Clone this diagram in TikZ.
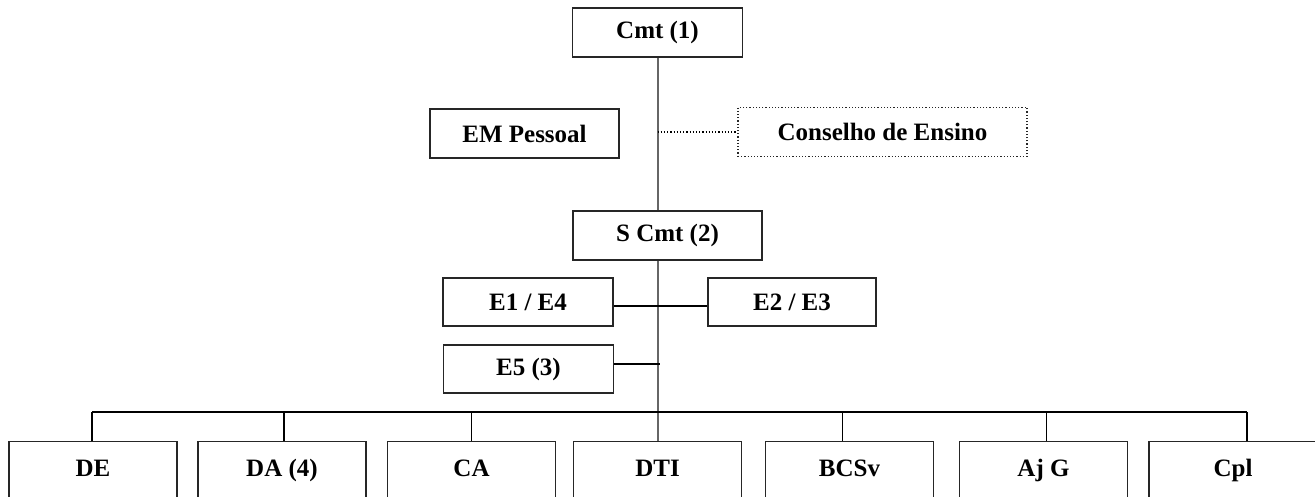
\documentclass[tikz,border=0pt]{standalone}
\usepackage{fontspec}
\setmainfont{Liberation Serif}
\usetikzlibrary{positioning, calc}

\begin{document}
\begin{tikzpicture}[x=1pt, y=-1pt,
            box/.style={rectangle, draw=black!85, line width=1.2pt, minimum height=49pt, inner sep=0pt, font=\fontsize{25}{30}\selectfont\bfseries},
            staff/.style={box, dotted, line width=1.6pt},
            leaf/.style={box, minimum width=168pt, minimum height=0pt, anchor=north, text height=35pt, text depth=40pt},
            trunk/.style={draw=black!60, line width=2pt},
            link/.style={draw=black, line width=1.2pt},
            tie/.style={link, dotted, line width=1.6pt}
        ]
            \useasboundingbox (0,0) rectangle (1315,497);
            \clip (0,0) rectangle (1315,497);

            % --- comando ---
            \node[box, minimum width=170pt] (cmt) at (657.5,32.5) {Cmt (1)};
            \node[box, minimum width=189pt] (emp) at (524.5,133.5) {EM Pessoal};
            \node[staff, minimum width=289pt] (cons) at (882.5,132) {Conselho de Ensino};
            \node[box, minimum width=189pt] (scmt) at (667.5,235.5) {S Cmt (2)};

            % --- estado-maior ---
            \node[box, minimum width=170pt, minimum height=48pt] (e14) at (528,302) {E1 / E4};
            \node[box, minimum width=168pt, minimum height=48pt] (e23) at (792,302) {E2 / E3};
            \node[box, minimum width=170pt, minimum height=48pt] (e5) at (528.5,369) {E5 (3)};

            % --- subordinados ---
            \node[leaf] (de) at (93,441) {DE};
            \node[leaf] (da) at (282,441) {DA (4)};
            \node[leaf] (ca) at (471.5,441) {CA};
            \node[leaf] (dti) at (657.5,441) {DTI};
            \node[leaf] (bcsv) at (849.5,441) {BCSv};
            \node[leaf] (ajg) at (1043.5,441) {Aj G};
            \node[leaf] (cpl) at (1233,441) {Cpl};

            \coordinate (bus) at (657.5,412);

            % --- ligacoes ---
            \draw[trunk] (cmt.south) -- (scmt.north -| cmt.south);
            \draw[tie] (cmt.south |- cons.west) -- (cons.west);
            \draw[trunk] (scmt.south -| bus) -- (bus |- dti.north);
            \draw[link] ([yshift=-4pt]e14.east) -- ([yshift=-4pt]e23.west);
            \draw[link] ([yshift=5pt]e5.east) -- ([xshift=2pt, yshift=5pt]e5.east -| bus);

            \draw[link] ([xshift=-1pt]de.north |- bus) -- ([xshift=14pt]cpl.north |- bus);
            \foreach \n/\dx in {de/-1, da/2, ca/0, bcsv/-7, ajg/3, cpl/14}
                \draw[link] ([xshift=\dx pt]\n.north) -- ([xshift=\dx pt]\n.north |- bus);
        \end{tikzpicture}
\end{document}
